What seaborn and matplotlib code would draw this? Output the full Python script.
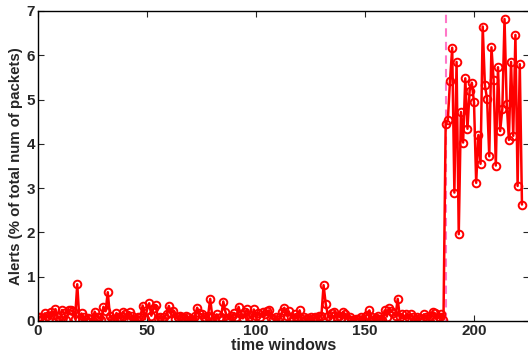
import numpy as np
import pandas as pd
import matplotlib
matplotlib.use("Agg")
import matplotlib.pyplot as plt
import seaborn as sns

low_values = [
    0.08, 0.10, 0.05, 0.17, 0.12, 0.06, 0.20, 0.14, 0.27, 0.10, 0.03, 0.25, 0.18, 0.02, 0.25, 0.24, 0.22, 0.05, 0.83, 0.02,
    0.17, 0.08, 0.03, 0.06, 0.04, 0.01, 0.21, 0.10, 0.08, 0.02, 0.32, 0.22, 0.65, 0.12, 0.05, 0.02, 0.18, 0.10, 0.04, 0.20,
    0.15, 0.03, 0.20, 0.12, 0.02, 0.05, 0.08, 0.10, 0.35, 0.04, 0.25, 0.40, 0.12, 0.30, 0.36, 0.06, 0.10, 0.03, 0.08, 0.15,
    0.34, 0.18, 0.22, 0.05, 0.08, 0.12, 0.10, 0.06, 0.12, 0.08, 0.05, 0.02, 0.12, 0.30, 0.18, 0.15, 0.10, 0.05, 0.12, 0.50,
    0.08, 0.02, 0.15, 0.06, 0.10, 0.44, 0.20, 0.06, 0.03, 0.12, 0.18, 0.08, 0.32, 0.15, 0.06, 0.20, 0.26, 0.10, 0.05, 0.26,
    0.12, 0.18, 0.08, 0.20, 0.15, 0.22, 0.24, 0.06, 0.04, 0.10, 0.03, 0.08, 0.20, 0.30, 0.12, 0.22, 0.10, 0.05, 0.15, 0.08,
    0.24, 0.05, 0.08, 0.03, 0.06, 0.10, 0.04, 0.08, 0.06, 0.12, 0.12, 0.81, 0.38, 0.12, 0.05, 0.18, 0.20, 0.08, 0.12, 0.06,
    0.20, 0.15, 0.05, 0.10, 0.03, 0.02, 0.05, 0.04, 0.08, 0.03, 0.10, 0.14, 0.24, 0.08, 0.03, 0.06, 0.12, 0.05, 0.02, 0.24,
    0.10, 0.30, 0.22, 0.18, 0.12, 0.50, 0.08, 0.15, 0.05, 0.15, 0.06, 0.15, 0.08, 0.03, 0.10, 0.06, 0.04, 0.15, 0.08, 0.05,
    0.12, 0.20, 0.18, 0.04, 0.10, 0.16, 0.03,
]
high_values = [
    4.45, 4.54, 5.43, 6.17, 2.90, 5.85, 1.96, 4.72, 4.03, 5.48, 4.34, 5.20, 5.38, 4.94, 3.12, 4.20, 3.55, 6.65,
    5.33, 5.01, 3.72, 6.18, 5.44, 3.51, 5.73, 4.29, 4.79, 6.82, 4.91, 4.09, 5.85, 4.18, 6.46, 3.05, 5.80, 2.63,
]
alerts = low_values + high_values
windows = list(range(len(alerts)))
change_point = 187
x_ticks = [0, 50, 100, 150, 200]
y_ticks = [0, 1, 2, 3, 4, 5, 6, 7]

sns.set_style("ticks")
plt.rcParams['font.family'] = ['Liberation Sans', 'DejaVu Sans']
plt.rcParams['font.weight'] = 'bold'

fig = plt.figure(figsize=(5.28, 3.58), dpi=100)
ax = fig.add_axes([38 / 528, 1 - 321 / 358, (528.5 - 38) / 528, (321 - 11) / 358])

df = pd.DataFrame({"t": windows, "a": alerts})
sns.lineplot(data=df, x="t", y="a", ax=ax, color="red", linewidth=1.8,
             marker="o", markersize=5.5, markerfacecolor="none",
             markeredgecolor="red", markeredgewidth=1.4)
ax.axvline(change_point, color="#ff77c8", linestyle=(0, (4, 2.5)), linewidth=1.5, zorder=1)

ax.set_xlim(0, 225)
ax.set_ylim(0, 7)
ax.set_xticks(x_ticks)
ax.set_yticks(y_ticks)
ax.tick_params(direction="in", top=True, right=True, length=4, width=0.8,
               labelsize=11, pad=2)
for lab in ax.get_xticklabels() + ax.get_yticklabels():
    lab.set_fontweight("bold")
for s in ax.spines.values():
    s.set_linewidth(1.0)
    s.set_color("black")
ax.set_xlabel("time windows", fontsize=11.5, fontweight="bold", labelpad=0)
ax.set_ylabel("Alerts (% of total num of packets)", fontsize=10.8, fontweight="bold", labelpad=3)

fig.savefig("out.png", dpi=100)
